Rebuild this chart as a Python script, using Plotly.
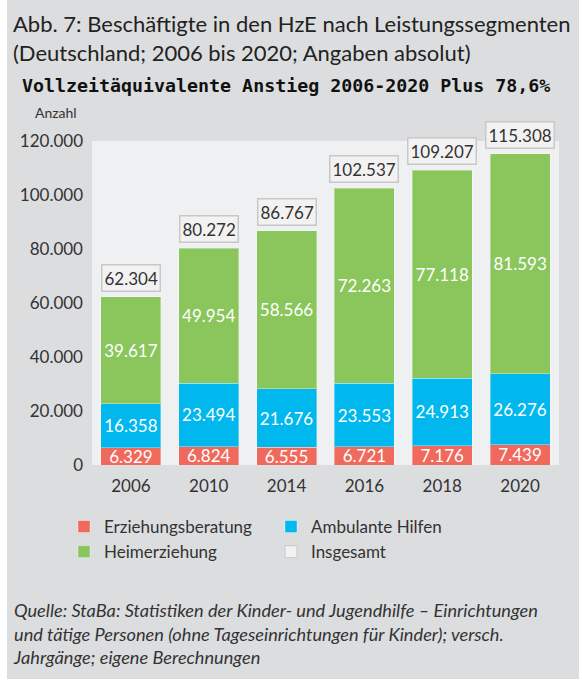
import plotly.graph_objects as go

years = ["2006", "2010", "2014", "2016", "2018", "2020"]
erziehungsberatung = [6329, 6824, 6555, 6721, 7176, 7439]
ambulante_hilfen = [16358, 23494, 21676, 23553, 24913, 26276]
heimerziehung = [39617, 49954, 58566, 72263, 77118, 81593]
insgesamt = [62304, 80272, 86767, 102537, 109207, 115308]
y_ticks = [0, 20000, 40000, 60000, 80000, 100000, 120000]

FONT = "Lato"
TXT = "#333333"
PANEL = "#dcdddf"
PLOTBG = "#eff0f2"

W, H = 582, 686
ML, MR, MT, MB = 92, 23, 141, 221
pw, ph = W - ML - MR, H - MT - MB

def fmt(v):
    return f"{v:,}".replace(",", ".")

fig = go.Figure()
series = [
    ("Erziehungsberatung", erziehungsberatung, "#ef6a5d"),
    ("Ambulante Hilfen", ambulante_hilfen, "#00b8ee"),
    ("Heimerziehung", heimerziehung, "#8ac65c"),
]
for name, vals, col in series:
    fig.add_trace(go.Bar(
        x=years, y=vals, name=name,
        marker=dict(color=col, line=dict(color="rgba(255,255,255,0.35)", width=1)),
        texttemplate="%{y:,}", textposition="inside", insidetextanchor="middle",
        constraintext="none",
        textfont=dict(family=FONT, size=17, color="white"),
        hoverinfo="skip",
    ))
fig.add_trace(go.Bar(
    x=years, y=[None] * len(years), name="Insgesamt",
    marker=dict(color="#f2f2f2", line=dict(color="#c8c8c8", width=1)),
    hoverinfo="skip",
))

for i, tot in enumerate(insgesamt):
    fig.add_annotation(
        x=i, y=tot, xref="x", yref="y", text=fmt(tot), showarrow=False,
        yanchor="bottom", yshift=5,
        font=dict(family=FONT, size=17, color=TXT),
        bgcolor="#f2f2f2", bordercolor="#c8c8c8", borderwidth=1.5, borderpad=2,
    )

fig.add_shape(type="rect", xref="paper", yref="paper", layer="below",
              x0=(7 - ML) / pw, x1=(579 - ML) / pw,
              y0=(H - MB - 679) / ph, y1=(H - MB - 0) / ph,
              fillcolor=PANEL, line=dict(width=0))
fig.add_shape(type="rect", xref="paper", yref="paper", layer="below",
              x0=0, x1=1, y0=0, y1=1, fillcolor=PLOTBG, line=dict(width=0))

def px_to_paper_y(py):
    return (H - MB - py) / ph

def px_to_paper_x(px):
    return (px - ML) / pw

fig.add_annotation(
    xref="paper", yref="paper", x=px_to_paper_x(11), y=px_to_paper_y(38),
    xanchor="left", yanchor="middle", showarrow=False, align="left",
    text="Abb. 7: Beschäftigte in den HzE nach Leistungssegmenten<br>(Deutschland; 2006 bis 2020; Angaben absolut)",
    font=dict(family=FONT, size=22, color="#222222"),
)
fig.add_annotation(
    xref="paper", yref="paper", x=px_to_paper_x(20), y=px_to_paper_y(86),
    xanchor="left", yanchor="middle", showarrow=False,
    text="<b>Vollzeitäquivalente Anstieg 2006-2020 Plus 78,6%</b>",
    font=dict(family="DejaVu Sans Mono", size=18.3, color="#111111"),
)
fig.add_annotation(
    xref="paper", yref="paper", x=px_to_paper_x(56), y=px_to_paper_y(112),
    xanchor="center", yanchor="middle", showarrow=False, text="Anzahl",
    font=dict(family=FONT, size=14, color=TXT),
)
fig.add_annotation(
    xref="paper", yref="paper", x=px_to_paper_x(11), y=px_to_paper_y(633),
    xanchor="left", yanchor="middle", showarrow=False, align="left",
    text="<i>Quelle: StaBa: Statistiken der Kinder- und Jugendhilfe – Einrichtungen<br>"
         "und tätige Personen (ohne Tageseinrichtungen für Kinder); versch.<br>"
         "Jahrgänge; eigene Berechnungen</i>",
    font=dict(family=FONT, size=18.2, color=TXT),
)

fig.update_layout(
    width=W, height=H,
    margin=dict(l=ML, r=MR, t=MT, b=MB, pad=0, autoexpand=False),
    paper_bgcolor="white", plot_bgcolor="rgba(0,0,0,0)",
    barmode="stack", bargap=0.23,
    separators=",.",
    font=dict(family=FONT, size=17, color=TXT),
    showlegend=True,
    legend=dict(
        orientation="h", x=px_to_paper_x(64), y=px_to_paper_y(509),
        xanchor="left", yanchor="top",
        entrywidth=162, entrywidthmode="pixels",
        traceorder="normal",
        font=dict(family=FONT, size=17, color=TXT),
        bgcolor="rgba(0,0,0,0)",
    ),
    xaxis=dict(type="category", range=[-0.5, 5.5], showgrid=False, showline=False,
               ticks="", ticklabelstandoff=9, automargin=False,
               tickfont=dict(family=FONT, size=17, color=TXT)),
    yaxis=dict(range=[0, 120000], tickvals=y_ticks, tickformat=",d",
               showgrid=False, zeroline=False, showline=False, ticks="",
               ticklabelstandoff=8, automargin=False,
               tickfont=dict(family=FONT, size=17, color=TXT)),
)

fig.write_html("out.html", config={"displayModeBar": False},
               post_script="document.body.style.margin='0px';")
